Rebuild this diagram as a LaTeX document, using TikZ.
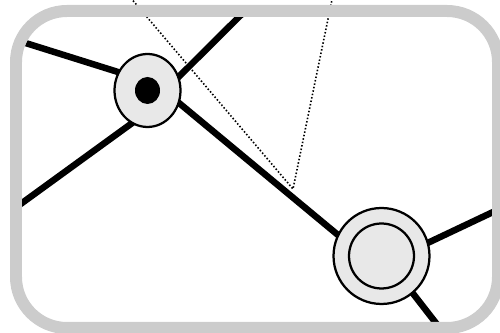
\documentclass[tikz,border=0pt]{standalone}
\usetikzlibrary{shapes.geometric,backgrounds}
\definecolor{stnfill}{HTML}{E8E8E8}
\definecolor{frmgray}{HTML}{CCCCCC}
\begin{document}
\begin{tikzpicture}[x=0.02cm,y=-0.02cm,
  stn/.style={draw=black,fill=stnfill,line width=0.045cm,inner sep=0pt},
  stndot/.style={fill=black,ellipse,inner sep=0pt,minimum width=0.5cm,minimum height=0.54cm},
  e/.style={line width=0.13cm,draw=black,shorten <=-0.15cm,shorten >=-0.15cm},
  sight/.style={line width=0.032cm,dash pattern=on 0.03cm off 0.04cm},
  frm/.style={draw=frmgray,line width=0.24cm,rounded corners=1.02cm}]
\path[use as bounding box,clip] (0,0) rectangle (500,333);
\node[stn,ellipse,minimum width=1.32cm,minimum height=1.46cm] (MapHub) at (147.5,90.5) {};
\node[stndot] (MapHubDot) at (MapHub.center) {};
\node[stn,circle,minimum size=1.92cm] (MapTerm) at (381.5,256) {};
\node[stn,circle,minimum size=1.3cm] (MapTermRing) at (MapTerm.center) {};
\coordinate (MapW1) at (0,35);
\coordinate (MapW2) at (0,219);
\coordinate (MapN1) at (256,0);
\coordinate (MapE1) at (510,204);
\coordinate (MapS1) at (453,345);
\coordinate (MapTopA) at (124,-10);
\coordinate (MapTopB) at (334,-10);
\coordinate (MapApex) at (293,189);
\begin{scope}[on background layer]
\draw[sight] (MapTopA) -- (MapApex) -- (MapTopB);
\begin{scope}
\clip[rounded corners=0.9cm] (22,17) rectangle (492,322);
\draw[e] (MapW1) -- (MapHub.148);
\draw[e] (MapW2) -- (MapHub.244);
\draw[e] (MapN1) -- (MapHub.24);
\draw[e] (MapHub.338) -- (MapTerm.154);
\draw[e] (MapTerm.16) -- (MapE1);
\draw[e] (MapTerm.310) -- (MapS1);
\end{scope}
\end{scope}
\draw[frm] (16,11) rectangle (498,328);
\end{tikzpicture}
\end{document}
